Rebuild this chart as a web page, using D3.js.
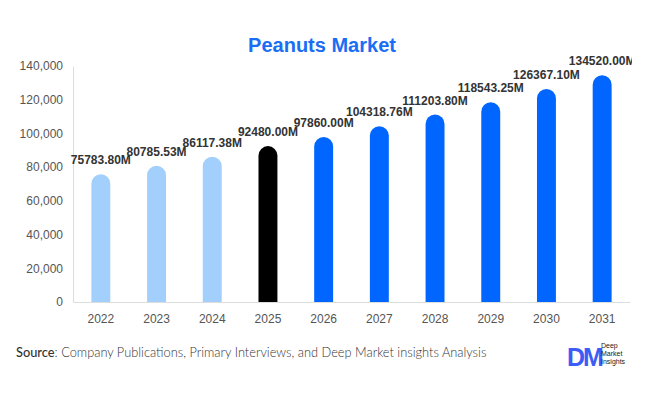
<!DOCTYPE html>
<html><head><meta charset="utf-8">
<script src="https://cdn.jsdelivr.net/npm/d3@7"></script>
<style>body{margin:0;background:#fff;}svg{display:block;}</style>
</head><body>
<svg id="chart" width="646" height="394"></svg>
<script>
const years = ["2022","2023","2024","2025","2026","2027","2028","2029","2030","2031"];
const values = [75783.80, 80785.53, 86117.38, 92480.00, 97860.00, 104318.76, 111203.80, 118543.25, 126367.10, 134520.00];
const labels = ["75783.80M","80785.53M","86117.38M","92480.00M","97860.00M","104318.76M","111203.80M","118543.25M","126367.10M","134520.00M"];
const yTicks = [0,20000,40000,60000,80000,100000,120000,140000];
const colors = ["#a3cffd","#a3cffd","#a3cffd","#000000","#0066ff","#0066ff","#0066ff","#0066ff","#0066ff","#0066ff"];

const svg = d3.select("#chart");
const W = 646, H = 394;
const m = {left:73, right:16, top:66, bottom:92};
const x = d3.scaleBand().domain(years).range([m.left, W - m.right]).paddingInner(0.66).paddingOuter(0.33);
const y = d3.scaleLinear().domain([0,140000]).range([H - m.bottom, m.top]);

svg.append("text").attr("x", 322).attr("y", 52).attr("text-anchor","middle")
  .attr("font-family","Liberation Sans, Arial, sans-serif").attr("font-weight","bold")
  .attr("font-size", 20).attr("fill","#1a6ef5").text("Peanuts Market");

// axes
const yAxis = svg.append("g").attr("transform",`translate(${m.left},0)`)
  .call(d3.axisLeft(y).tickValues(yTicks).tickFormat(d3.format(",")).tickSize(0).tickPadding(10));
yAxis.select(".domain").attr("stroke","#ddd");
yAxis.selectAll("text").attr("font-family","Liberation Sans, Arial, sans-serif").attr("font-size",12).attr("fill","#555");

const xAxis = svg.append("g").attr("transform",`translate(0,${H - m.bottom})`)
  .call(d3.axisBottom(x).tickSize(0).tickPadding(12));
xAxis.select(".domain").attr("stroke","#ddd");
xAxis.selectAll("text").attr("font-family","Liberation Sans, Arial, sans-serif").attr("font-size",12).attr("fill","#555");

// bars with rounded tops
const bw = x.bandwidth();
svg.append("g").selectAll("path").data(values).join("path")
  .attr("fill",(d,i)=>colors[i])
  .attr("d",(d,i)=>{
    const x0 = x(years[i]), x1 = x0 + bw, r = bw/2;
    const yt = y(d), yb = y(0);
    return `M${x0},${yb}V${yt + r}A${r},${r} 0 0 1 ${x1},${yt + r}V${yb}Z`;
  });

svg.append("clipPath").attr("id","lc").append("rect").attr("x",0).attr("y",0).attr("width",632).attr("height",H);
svg.append("g").attr("clip-path","url(#lc)").selectAll("text").data(values).join("text")
  .attr("x",(d,i)=>x(years[i]) + bw/2).attr("y", d => y(d) - 10)
  .attr("text-anchor","middle").attr("font-family","Liberation Sans, Arial, sans-serif")
  .attr("font-weight","bold").attr("font-size",12).attr("fill","#333")
  .text((d,i)=>labels[i]);

// source
const src = svg.append("text").attr("x",16).attr("y",357)
  .attr("font-family","Lato, sans-serif").attr("font-size",12.8).attr("fill","#333");
src.append("tspan").attr("font-weight","500").text("Source");
src.append("tspan").attr("font-weight","300").text(": Company Publications, Primary Interviews, and Deep Market insights Analysis");

// logo
const lg = svg.append("g");
lg.append("text").attr("x",567).attr("y",366).attr("font-family","Liberation Sans, Arial, sans-serif")
  .attr("font-weight","bold").attr("font-size",25).attr("fill","#3d5cf5").attr("letter-spacing",-2).text("DM");
["Deep","Market","Insights"].forEach((t,i)=>{
  lg.append("text").attr("x",601).attr("y",348 + i*8).attr("font-family","Liberation Sans, Arial, sans-serif")
    .attr("font-size",7).attr("fill","#222").text(t);
});
</script>
</body></html>
